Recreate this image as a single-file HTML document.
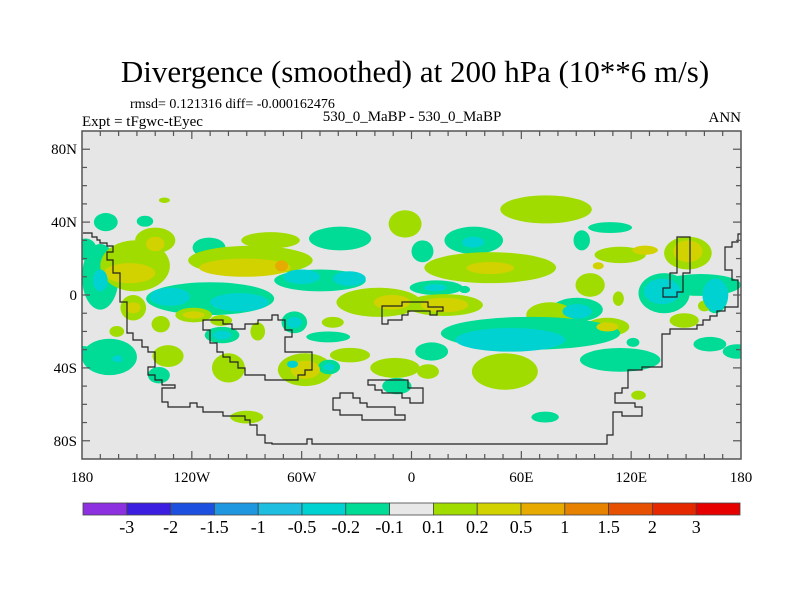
<!DOCTYPE html>
<html><head><meta charset="utf-8"><style>
body{margin:0;background:#fff}
svg text{font-family:"Liberation Serif",serif;fill:#000}
</style></head><body>
<svg width="800" height="600" viewBox="0 0 800 600">
<text x="415" y="82" font-size="31" text-anchor="middle">Divergence (smoothed) at 200 hPa (10**6 m/s)</text>
<text x="130" y="108" font-size="14">rmsd= 0.121316 diff= -0.000162476</text>
<text x="82" y="126" font-size="15">Expt = tFgwc-tEyec</text>
<text x="412" y="121" font-size="15" text-anchor="middle">530_0_MaBP - 530_0_MaBP</text>
<text x="741" y="122" font-size="15" text-anchor="end">ANN</text>
<defs><clipPath id="pc"><rect x="82" y="131" width="659" height="328"/></clipPath></defs>
<rect x="82" y="131" width="659" height="328" fill="#e6e6e6"/>
<g id="blobs" clip-path="url(#pc)"></g>
<g id="coast" fill="none" stroke="#222" stroke-width="1.2" clip-path="url(#pc)"></g>
<rect x="82" y="131" width="659" height="328" fill="none" stroke="#555" stroke-width="1.5"/>
<g id="ticks" stroke="#555" stroke-width="1.2"></g>
<g id="labels" font-size="15"></g>
<g id="cbar"></g>
</svg>
<script>
const NS="http://www.w3.org/2000/svg";
const colors=["#8c30e0","#3c1ee0","#1e50e0","#1e96e0","#1ebee0","#00d2d2","#00dc96","#e8e8e8","#a0dc00","#d2d200","#e6aa00","#e68200","#e65000","#e62800","#e60000"];
const cbarLabels=["-3","-2","-1.5","-1","-0.5","-0.2","-0.1","0.1","0.2","0.5","1","1.5","2","3"];
const latTicks=[80,40,0,-40,-80];
const latTickLabels=["80N","40N","0","40S","80S"];
const lonTicks=[-180,-120,-60,0,60,120,180];
const lonTickLabels=["180","120W","60W","0","60E","120E","180"];
// blob data: lon, lat, radius lon, radius lat, colour level index
const blobLon=[-167,-145.6,-170,-180,-151,-140,-110.6,-88,-77,-39,-50,-110,-18,-3.5,-178,-152,-119,-137,-104,-103.5,-84,-64,-45.5,-43,-33.6,-9,-161,-165,-133,-138,-100,-58,-45,-8,-135,-90,
 73.5,34,6,43,13.5,18,29,108.5,93,114,97.6,90.5,113,75.7,107,121,65,114,11,9,51,124,73,138,158,166,151,160,149,163,178,
 -154,-140,-91,-71,-60,-34,-132,-94,-10.6,-152,-119,-103.5,-64,-58,-170,-182,-45,-160,
 33.7,43,13,18,90.5,54,137,166,151,127.6,102,107,-161.5,-65];
const blobLat=[40,40.5,10,-32,16,30,26,19,30,31,8,-2,-4,39,25,-7,-11,-16,-14,-22,-20,-15,-23,-15,-33,-40,-20,-34,-33.5,-44,-40,-41,-39.5,-50,52,-67,
 47,30,24,15,4,-5.5,3,37,30,22,5.5,-8,-2,-11,-17.5,-26,-21,-35.6,-31,-42,-42,-55,-67,1,5.5,0,23,-6,-14,-27,-31,
 12,28,15,16,10,9,-1,-4,-4,-7,-11,-22,-15,-41,8,-31,-39.5,-35,
 29,14.8,4,-5.5,-9,-24.6,2,0,24,24.6,16,-17.5,-35,-38];
const blobRLon=[6.5,4.5,10,8,19,11,9,34,16,17,25,35,23,9,6,7,10,5,6,9.5,4,7,12,6,11,13.5,4,15,8.5,6,9,15,6,8,3,9,
 25,16,6,36,14.5,21,3,12,4.5,14,8,14,3,13,12,3.5,49,22,9,6,18,4,7.5,14,22,7,13,3.5,8,9,8,
 14,5,25,3.5,10,9,11,16,10,4,6,5,4,8,4,3,3,2,
 6,13,6,13,8,30,10,7,8,7,3,6,2,3];
const blobRLat=[5,3,18,4,14,7,5.5,8,4.5,6.5,6,9,8,7.5,6,7,4,4.5,3,4.5,5,6,3,3,4,5.5,3,10,6,4.5,8,9,4,4.5,1.5,3.5,
 7.7,7.5,6,8.5,4,6,2,3,5.5,4.5,6.5,6.5,4,7,5,2.5,9,6.5,5,4,10,2.5,3,11,6,10,9,3,4,4,4,
 5.5,4,5,3,4,4,5,5,4,3,2,2.5,3,5,6,3,2,2,
 3,3.3,2,4,4,6.5,7,9,6,2.5,2,2.5,1.5,2];
const blobLevel=[6,6,6,6,8,8,6,8,8,6,6,6,8,8,6,8,8,8,8,6,8,6,6,8,8,8,8,6,8,6,8,8,6,6,8,8,
 8,6,6,8,6,8,6,6,6,8,8,6,8,8,8,6,6,6,6,8,8,8,6,6,6,6,8,8,8,6,6,
 9,9,9,10,5,5,5,5,9,9,9,5,5,9,5,5,5,5,
 5,9,5,9,5,5,5,5,9,9,9,9,5,5];
const X0=82,Y0=131,W=659,H=328;
const xs=lon=>X0+(lon+180)/360*W;
const ys=lat=>Y0+(90-lat)/180*H;
const kx=W/360,ky=H/180;
const bg=document.getElementById('blobs');
const order=[...blobLon.keys()].sort((a,b)=>{const r=l=>(l===6||l===8)?0:1;return r(blobLevel[a])-r(blobLevel[b]);});
for(const i of order){
  const e=document.createElementNS(NS,'ellipse');
  e.setAttribute('cx',xs(blobLon[i]));e.setAttribute('cy',ys(blobLat[i]));
  e.setAttribute('rx',blobRLon[i]*kx);e.setAttribute('ry',blobRLat[i]*ky);
  e.setAttribute('fill',colors[blobLevel[i]]);
  
  
  bg.appendChild(e);
}
const coastPaths=[
"83,233 92,233 92,237 97,237 97,240 100,240 100,243 107,243 107,246 113,246 113,252 107,252 107,260 113,260 113,273 120,273 120,302 127,302 127,333 133,333 133,340 142,340 142,347 148,347 148,352 155,352 155,367 148,367 148,375 155,375 155,380 162,380 162,385 175,385 175,388 162,388 162,402 168,402 168,407 190,407 190,403 197,403 197,407 203,407 203,412 223,412 223,416 245,416 245,420 250,420 250,425 257,425 257,435 265,435 265,443 272,443 272,444 307,444 307,439 312,439 312,444 607,444 607,435 613,435 613,412 622,412 622,416 642,416 642,407 635,407 635,403 615,403 615,393 622,393 622,388 628,388 628,370 642,370 642,367 662,367 662,334 670,334 670,329 697,329 697,325 703,325 703,320 710,320 710,316 717,316 717,311 725,311 725,307 738,307 738,280 732,280 732,270 725,270 725,247 732,247 732,242 738,242 738,234 741,234",
"203,320 223,320 223,324 232,324 232,329 245,329 245,324 258,324 258,320 272,320 272,315 278,315 278,320 285,320 285,330 292,330 292,337 285,337 285,352 312,352 312,370 305,370 305,375 298,375 298,380 265,380 265,375 245,375 245,368 238,368 238,362 230,362 230,357 223,357 223,352 217,352 217,343 210,343 210,330 203,330 Z",
"368,380 408,380 408,388 423,388 423,403 410,403 410,398 402,398 402,393 382,393 382,390 375,390 375,385 368,385 Z",
"333,398 340,398 340,393 353,393 353,398 360,398 360,403 367,403 367,407 395,407 395,415 405,415 405,420 362,420 362,415 340,415 340,410 333,410 Z",
"382,306 402,306 402,302 428,302 428,307 443,307 443,311 437,311 437,315 430,315 430,311 408,311 408,315 402,315 402,320 388,320 388,324 382,324 Z",
"677,237 690,237 690,273 683,273 683,292 677,292 677,297 663,297 663,288 670,288 670,273 677,273 Z"];
const cg=document.getElementById('coast');
coastPaths.forEach((p,i)=>{const el=document.createElementNS(NS,p.endsWith('Z')?'polygon':'polyline');
 el.setAttribute('points',p.replace(' Z',''));
 
 
 cg.appendChild(el);});
const tg=document.getElementById('ticks');
function line(x1,y1,x2,y2){const l=document.createElementNS(NS,'line');l.setAttribute('x1',x1);l.setAttribute('y1',y1);l.setAttribute('x2',x2);l.setAttribute('y2',y2);
 
 
 tg.appendChild(l);}
for(let lat=-80;lat<=80;lat+=10){const maj=lat%40===0;const L=maj?8:5;line(X0,ys(lat),X0+L,ys(lat));line(X0+W,ys(lat),X0+W-L,ys(lat));}
for(let lon=-170;lon<=170;lon+=10){const maj=lon%60===0;const L=maj?8:5;line(xs(lon),Y0+H,xs(lon),Y0+H-L);line(xs(lon),Y0,xs(lon),Y0+L);}
const lg=document.getElementById('labels');
function txt(x,y,s,a,n){const t=document.createElementNS(NS,'text');t.setAttribute('x',x);t.setAttribute('y',y);t.setAttribute('text-anchor',a);t.textContent=s;
 
 
 lg.appendChild(t);}
latTicks.forEach((v,i)=>txt(77,ys(v)+5,latTickLabels[i],'end','lat-tick-label'));
lonTicks.forEach((v,i)=>txt(xs(v),482,lonTickLabels[i],'middle','lon-tick-label'));
const cb=document.getElementById('cbar');
const CX=83,CW=657/colors.length;
colors.forEach((c,i)=>{const r=document.createElementNS(NS,'rect');r.setAttribute('x',CX+i*CW);r.setAttribute('y',503);r.setAttribute('width',CW);r.setAttribute('height',12);r.setAttribute('fill',c);r.setAttribute('stroke','#444');r.setAttribute('stroke-width','0.8');
 
 
 cb.appendChild(r);});
cbarLabels.forEach((s,i)=>{const t=document.createElementNS(NS,'text');t.setAttribute('x',CX+(i+1)*CW);t.setAttribute('y',533);t.setAttribute('text-anchor','middle');t.setAttribute('font-size','18');t.textContent=s;
 
 
 cb.appendChild(t);});
</script>
</body></html>
